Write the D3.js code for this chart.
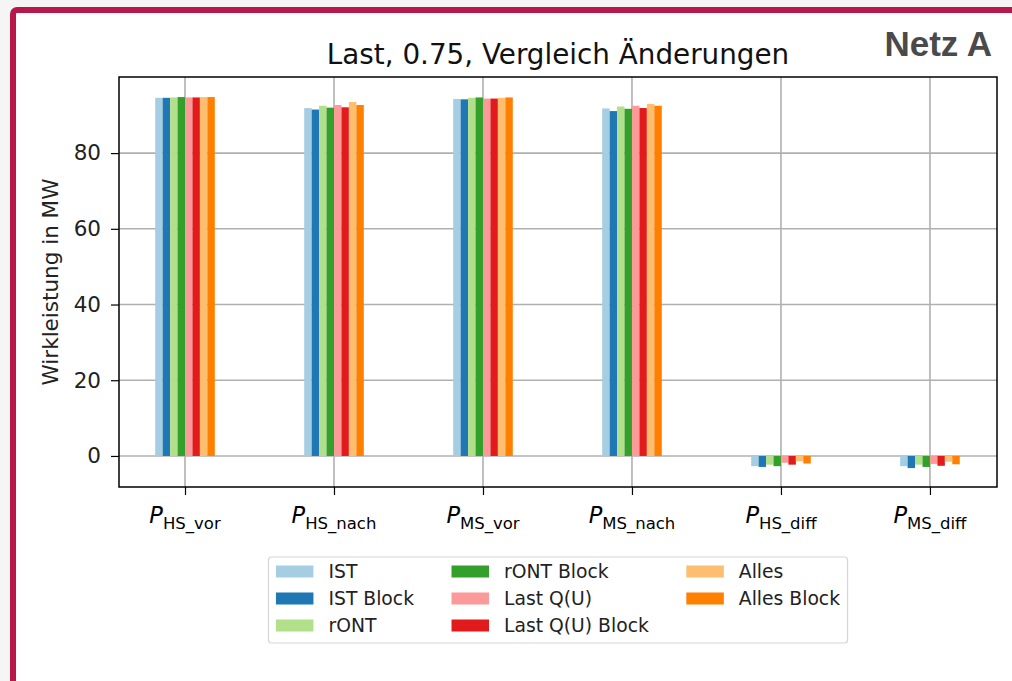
<!DOCTYPE html>
<html>
<head>
<meta charset="utf-8">
<script src="https://cdn.jsdelivr.net/npm/d3@7"></script>
<style>
  body { margin: 0; background: #f5f5f5; }
  svg text { font-family: "DejaVu Sans", sans-serif; }
</style>
</head>
<body>
<svg id="chart" width="1012" height="681"></svg>
<script>
// categories (main label + subscript)
var categories = ["HS_vor", "HS_nach", "MS_vor", "MS_nach", "HS_diff", "MS_diff"];
var series = ["IST", "IST Block", "rONT", "rONT Block", "Last Q(U)", "Last Q(U) Block", "Alles", "Alles Block"];
var colors = ["#a6cee3", "#1f78b4", "#b2df8a", "#33a02c", "#fb9a99", "#e31a1c", "#fdbf6f", "#ff7f00"];

// values per series, in order of categories
var valIST        = [94.6, 91.9, 94.3, 91.8, -2.7, -2.7];
var valISTBlock   = [94.6, 91.5, 94.2, 91.1, -2.9, -3.2];
var valrONT       = [94.7, 92.5, 94.6, 92.3, -2.3, -2.3];
var valrONTBlock  = [94.8, 92.0, 94.7, 91.7, -2.7, -2.9];
var valLast       = [94.7, 92.7, 94.4, 92.5, -1.8, -2.1];
var valLastBlock  = [94.7, 92.1, 94.4, 91.9, -2.3, -2.6];
var valAlles      = [94.8, 93.5, 94.6, 93.0, -1.4, -1.5];
var valAllesBlock = [94.8, 92.7, 94.7, 92.5, -2.0, -2.2];
var allValues = [valIST, valISTBlock, valrONT, valrONTBlock, valLast, valLastBlock, valAlles, valAllesBlock];

var yTicks = [0, 20, 40, 60, 80];

var svg = d3.select("#chart");

// red frame
svg.append("rect")
    .attr("x", 13).attr("y", 10)
    .attr("width", 1100).attr("height", 800)
    .attr("rx", 4)
    .attr("fill", "#fff")
    .attr("stroke", "#b8174a")
    .attr("stroke-width", 6);

// plot area
var pLeft = 119, pRight = 997, pTop = 77, pBottom = 487;

// category index -> pixel (matplotlib style, categories at 0..5)
var x = d3.scaleLinear()
    .domain([-0.443, 5.45])
    .range([pLeft, pRight]);
var groupWidth = 0.4;

var xs = d3.scaleBand()
    .domain(series)
    .range([-groupWidth / 2, groupWidth / 2]);

var y = d3.scaleLinear()
    .domain([-8.2, 100.1])
    .range([pBottom, pTop]);

// grid
var g = svg.append("g");
g.selectAll(".hgrid").data(yTicks).enter().append("line")
    .attr("x1", pLeft).attr("x2", pRight)
    .attr("y1", d => y(d)).attr("y2", d => y(d))
    .attr("stroke", "#b0b0b0").attr("stroke-width", 1.6);
g.selectAll(".vgrid").data(categories).enter().append("line")
    .attr("x1", (d, i) => x(i)).attr("x2", (d, i) => x(i))
    .attr("y1", pTop).attr("y2", pBottom)
    .attr("stroke", "#b0b0b0").attr("stroke-width", 1.6);

// bars
series.forEach(function (s, i) {
    svg.append("g").selectAll("rect")
        .data(allValues[i])
        .enter().append("rect")
        .attr("x", (d, j) => x(j + xs(s)))
        .attr("width", x(xs.bandwidth()) - x(0))
        .attr("y", d => Math.min(y(d), y(0)))
        .attr("height", d => Math.abs(y(d) - y(0)))
        .attr("fill", colors[i]);
});

// axes
var yAxis = d3.axisLeft(y).tickValues(yTicks).tickSize(8).tickPadding(10);
var yg = svg.append("g").attr("transform", "translate(" + pLeft + ",0)").call(yAxis);
yg.select(".domain").remove();
yg.selectAll("text").style("font-size", "21.5px").attr("fill", "#222");
yg.selectAll("line").attr("stroke", "#000").attr("stroke-width", 1.2);

var xAxis = d3.axisBottom(x).tickValues(d3.range(categories.length)).tickSize(8).tickFormat("");
var xg = svg.append("g").attr("transform", "translate(0," + pBottom + ")").call(xAxis);
xg.select(".domain").remove();
xg.selectAll("line").attr("stroke", "#000").attr("stroke-width", 1.2);

// x tick labels with subscripts
categories.forEach(function (c, i) {
    var t = svg.append("text")
        .attr("x", x(i))
        .attr("y", 523)
        .attr("text-anchor", "middle")
        .attr("fill", "#000");
    t.append("tspan").text("P").style("font-style", "italic").style("font-size", "22.5px");
    t.append("tspan").text(c).style("font-size", "16.5px").attr("dy", 6);
});

// frame of axes
svg.append("rect")
    .attr("x", pLeft).attr("y", pTop)
    .attr("width", pRight - pLeft).attr("height", pBottom - pTop)
    .attr("fill", "none").attr("stroke", "#000").attr("stroke-width", 1.5);

// title
svg.append("text")
    .attr("x", (pLeft + pRight) / 2).attr("y", 64)
    .attr("text-anchor", "middle")
    .style("font-size", "27.8px")
    .attr("fill", "#111")
    .text("Last, 0.75, Vergleich Änderungen");

svg.append("text")
    .attr("x", 992).attr("y", 56)
    .attr("text-anchor", "end")
    .style("font-family", "'Liberation Sans', Arial, sans-serif")
    .style("font-weight", "bold")
    .style("font-size", "35px")
    .attr("fill", "#4a4a4a")
    .text("Netz A");

// y label
svg.append("text")
    .attr("transform", "translate(57.5," + (pTop + pBottom) / 2 + ") rotate(-90)")
    .attr("text-anchor", "middle")
    .style("font-size", "21.5px")
    .attr("fill", "#222")
    .text("Wirkleistung in MW");

// legend (laid out like matplotlib, 3 columns)
var fs = 18.75;
var legend = svg.append("g");
var box = legend.append("rect")
    .attr("y", 557).attr("height", 86)
    .attr("rx", 3)
    .attr("fill", "#fff")
    .attr("stroke", "#d6d6d6").attr("stroke-width", 1.2);
var handleLen = 2 * fs, textPad = 0.8 * fs, colSpace = 2 * fs, borderPad = 0.4 * fs;
var items = series.map(function (s, i) {
    var lg = legend.append("g");
    lg.append("rect").attr("width", handleLen).attr("height", 12).attr("fill", colors[i]);
    var t = lg.append("text")
        .attr("x", handleLen + textPad).attr("y", 12.5)
        .style("font-size", fs + "px")
        .attr("fill", "#222")
        .text(s);
    return { g: lg, w: t.node().getComputedTextLength() };
});
var colWidths = [0, 1, 2].map(c => d3.max(items.filter((d, i) => Math.floor(i / 3) === c), d => d.w) + handleLen + textPad);
var boxW = 2 * borderPad + d3.sum(colWidths) + 2 * colSpace;
var boxX = (pLeft + pRight) / 2 - boxW / 2;
box.attr("x", boxX).attr("width", boxW);
items.forEach(function (it, i) {
    var col = Math.floor(i / 3), row = i % 3;
    var cx = boxX + borderPad + d3.sum(colWidths.slice(0, col)) + col * colSpace;
    it.g.attr("transform", "translate(" + cx + "," + (565.5 + row * 27) + ")");
});
</script>
</body>
</html>
